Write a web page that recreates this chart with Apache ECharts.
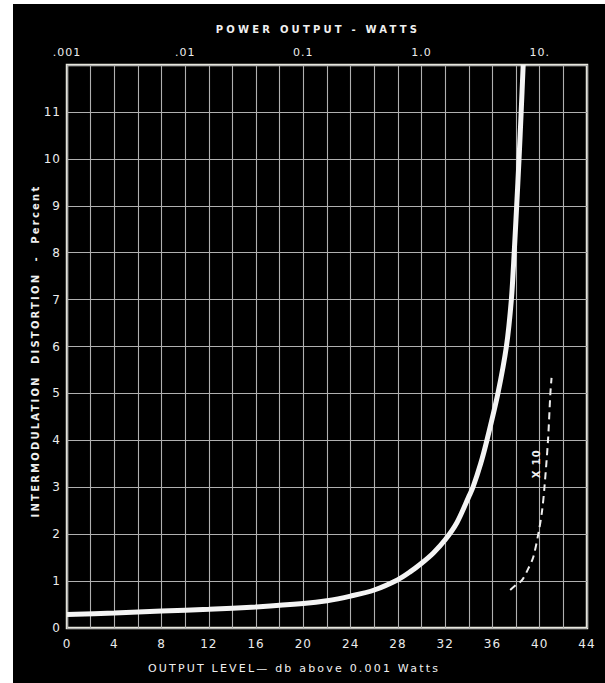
<!DOCTYPE html>
<html>
<head>
<meta charset="utf-8">
<script src="https://cdn.jsdelivr.net/npm/echarts@6/dist/echarts.min.js"></script>
<style>
  html, body { margin: 0; padding: 0; background: #ffffff; width: 605px; height: 683px; overflow: hidden; }
  #chart { position: absolute; left: 13px; top: 4px; width: 592px; height: 679px; background: #000; }
  #chart text { letter-spacing: 1px; }
  #chart text[style*="Verdana"] { letter-spacing: 3.2px; }
  #chart text[style*="Tahoma"] { letter-spacing: 2.2px; }
</style>
</head>
<body>
<div id="chart"></div>
<script>
// ---- data ----
// main curve: output level (db above 0.001 W) vs intermodulation distortion (%)
const mainDb  = [0, 4, 8, 12, 16, 20, 22, 24, 26, 28, 29, 30, 31, 32, 33, 34, 34.35, 35, 35.53, 36.46, 37.18, 37.6, 37.84, 38.05, 38.25, 38.43, 38.6];
const mainPct = [0.29, 0.32, 0.36, 0.40, 0.45, 0.52, 0.58, 0.68, 0.81, 1.03, 1.19, 1.38, 1.6, 1.88, 2.25, 2.8, 3.0, 3.5, 4.0, 5.0, 6.0, 7.0, 8.0, 9.0, 10.0, 11.0, 12.0];
// dashed curve (scale x10)
const dashDb  = [37.5, 38.0, 38.5, 39.0, 39.45, 39.9, 40.2, 40.4, 40.7, 40.9, 41.0];
const dashPct = [0.81, 0.92, 1.02, 1.25, 1.51, 2.03, 2.5, 3.0, 4.0, 5.0, 5.33];
const dashLabel = 'X 10';
const dashLabelAt = [39.7, 3.5];
// axes
const xTickStep = 4;
const topTickDb = [0, 10, 20, 30, 40];
const topTickLabels = ['.001', '.01', '0.1', '1.0', '10.'];
const yMax = 12;

const mainData = mainDb.map((d, i) => [d, mainPct[i]]);
const dashData = dashDb.map((d, i) => [d, dashPct[i]]);

const chart = echarts.init(document.getElementById('chart'), null, { renderer: 'svg' });
const tickFont = 'DejaVu Sans';
chart.setOption({
  backgroundColor: '#000000',
  animation: false,
  grid: { left: 54, right: 18, top: 61, bottom: 55, show: true, borderColor: '#e6e6dc', borderWidth: 2.5, backgroundColor: 'transparent' },
  xAxis: [
    {
      type: 'value', position: 'bottom', min: 0, max: 44, interval: 2,
      axisLine: { show: false }, axisTick: { show: false },
      axisLabel: { color: '#ececec', fontSize: 12, fontFamily: tickFont, margin: 10,
        formatter: v => (v % xTickStep === 0 ? String(v) : '') },
      splitLine: { show: true, lineStyle: { color: '#b0b0b0', width: 1.1 } }
    },
    {
      type: 'value', position: 'top', min: 0, max: 44, interval: 10,
      axisLine: { show: false }, axisTick: { show: false },
      axisLabel: { color: '#ececec', fontSize: 11, fontFamily: tickFont, margin: 7,
        formatter: v => { const k = topTickDb.indexOf(v); return k >= 0 ? topTickLabels[k] : ''; } },
      splitLine: { show: false }
    }
  ],
  yAxis: {
    type: 'value', min: 0, max: yMax, interval: 1,
    axisLine: { show: false }, axisTick: { show: false },
    axisLabel: { color: '#ececec', fontSize: 12, fontFamily: tickFont, margin: 6,
      formatter: v => (v === yMax ? '' : String(v)) },
    splitLine: { show: true, lineStyle: { color: '#b0b0b0', width: 1.1 } }
  },
  graphic: [
    { type: 'text', x: 305, y: 25, style: { text: 'POWER OUTPUT - WATTS', fill: '#f0f0f0', font: 'bold 10px Verdana, "DejaVu Sans"', textAlign: 'center', textVerticalAlign: 'middle' } },
    { type: 'text', x: 281, y: 664, style: { text: 'OUTPUT LEVEL\u2014 db above 0.001 Watts', fill: '#f0f0f0', font: '11px Tahoma, "DejaVu Sans"', textAlign: 'center', textVerticalAlign: 'middle' } },
    { type: 'text', x: 22, y: 347, rotation: Math.PI / 2, style: { text: 'INTERMODULATION  DISTORTION  -  Percent', fill: '#f0f0f0', font: 'bold 10px Tahoma, "DejaVu Sans"', textAlign: 'center', textVerticalAlign: 'middle' } }
  ],
  series: [
    {
      type: 'line', xAxisIndex: 0, data: mainData, showSymbol: false, smooth: 0.3,
      lineStyle: { color: '#f4f4f4', width: 5, cap: 'butt' }, z: 5
    },
    {
      type: 'line', xAxisIndex: 0, data: dashData, showSymbol: false, smooth: 0.3,
      lineStyle: { color: '#eeeeee', width: 2, type: [7, 5] }, z: 4,
      markPoint: {
        symbol: 'circle', symbolSize: 0,
        label: { show: true, formatter: dashLabel, rotate: 90, color: '#eeeeee', fontSize: 10, fontWeight: 'bold', fontFamily: tickFont, position: 'inside' },
        data: [{ coord: dashLabelAt }]
      }
    }
  ]
});
</script>
</body>
</html>
